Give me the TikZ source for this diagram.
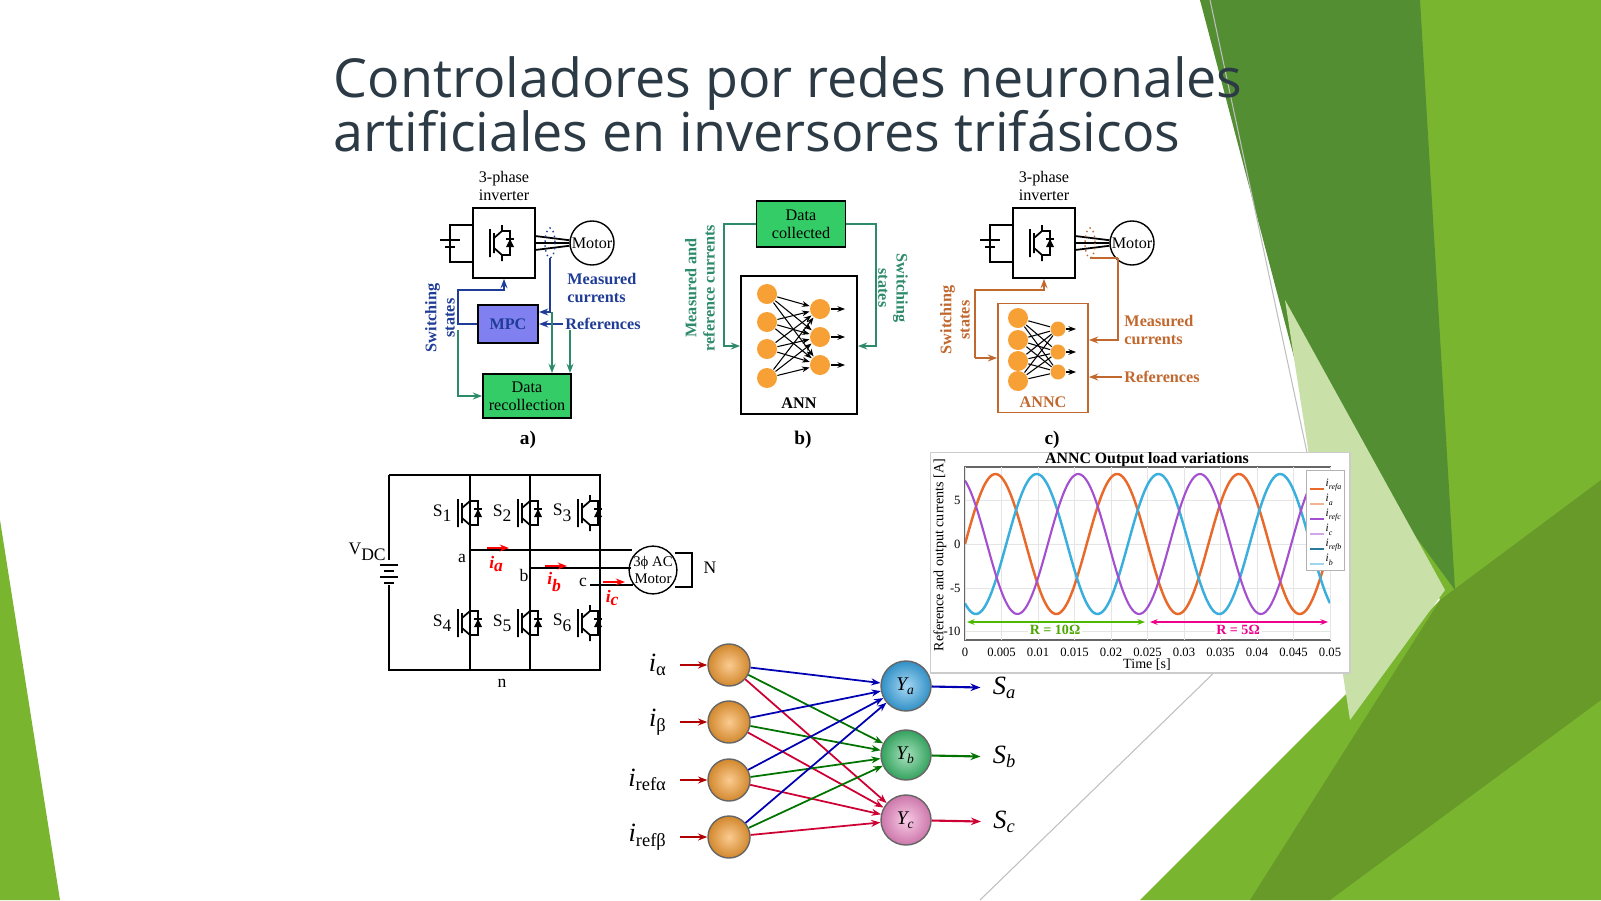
\documentclass[tikz,border=0pt]{standalone}
\usepackage{fontspec}
\setmainfont{Liberation Serif}
\newfontfamily\titlefont{Open Sans}
\usetikzlibrary{positioning,arrows.meta,shapes.geometric}
\definecolor{titlegray}{HTML}{2B3A44}
\definecolor{leafgreen}{HTML}{7AB530}
\definecolor{darkleaf}{HTML}{548E33}
\definecolor{paleleaf}{HTML}{C9E0A8}
\definecolor{mpcblue}{HTML}{8080F0}
\definecolor{navyline}{HTML}{1F3C96}
\definecolor{datagreen}{HTML}{33CC66}
\definecolor{tealline}{HTML}{2E8B6A}
\definecolor{neuron}{HTML}{F7A035}
\definecolor{anncbrown}{HTML}{C0682E}
\definecolor{sinorange}{HTML}{E8692A}
\definecolor{sinblue}{HTML}{3AAEDC}
\definecolor{sinpurple}{HTML}{A34FD0}
\definecolor{ya}{HTML}{3AA9E8}
\definecolor{yb}{HTML}{3DBE6E}
\definecolor{yc}{HTML}{F08CC8}
\newcommand{\smallfont}{\fontsize{4.6}{5.2}\selectfont}
\newcommand{\nnfont}{\fontsize{7.5}{8}\selectfont\itshape}
\tikzset{
  box/.style={draw, line width=0.5pt, minimum width=0.62cm, minimum height=0.7cm},
  lbl/.style={font=\smallfont, align=center, inner sep=0.5pt},
  neu/.style={circle, fill=neuron, minimum size=0.2cm, inner sep=0pt},
  bigneu/.style={circle, draw=black!60, inner color=neuron!55!white, outer color=neuron!85!black, minimum size=0.42cm, inner sep=0pt},
  outneu/.style={circle, draw=black!60, minimum size=0.5cm, inner sep=0pt, font=\fontsize{5.5}{6}\selectfont\itshape},
  wire/.style={line width=0.5pt},
  pics/igbt/.style={code={
    \draw[line width=0.5pt] (-12,-14) -- (-12,14) (-8,-10) -- (-8,10)
      (-8,-5) -- (0,-12) -- (0,-18) (-8,5) -- (0,12) -- (0,18)
      (0,-12) -- (8,-12) -- (8,12) -- (0,12);
    \fill (4,4) -- (12,4) -- (8,-4) -- cycle;
    \draw[line width=0.5pt] (4,-4) -- (12,-4);
  }}
}
\begin{document}
\begin{tikzpicture}[x=0.01cm, y=-0.01cm, >={Stealth[scale=0.5]}]
\useasboundingbox (0,0) rectangle (1601,900);
% background leaves
\fill[leafgreen] (1200,0) -- (1601,0) -- (1601,900) -- (1140,900) -- (1440,600) -- cycle;
\fill[darkleaf] (1200,0) -- (1420,0) -- (1455,590) -- (1300,380) -- cycle;
\fill[paleleaf] (1285,300) -- (1445,590) -- (1350,720) -- cycle;
\fill[leafgreen!85!black] (1440,600) -- (1601,480) -- (1601,700) -- (1330,900) -- (1250,900) -- cycle;
\draw[black!25, line width=0.3pt] (1210,0) -- (1330,560) (1330,560) -- (980,900);
\fill[leafgreen] (0,520) -- (60,900) -- (0,900) -- cycle;
% title
\node[anchor=west, text=titlegray, font=\titlefont\fontsize{15.3}{15.4}\selectfont, align=left, inner sep=0] (title) at (333,104) {Controladores por redes neuronales\\artificiales en inversores trifásicos};

% ---- panel a
\node[box] (invA) at (504,243) {};
\node[lbl, above=1pt of invA] (invAl) {3-phase\\inverter};
\pic at (502,243) {igbt};
\draw[wire] (473,225) -- (450,225) -- (450,262) -- (473,262);
\draw[wire] (440,240) -- (460,240) (445,247) -- (455,247);
\node[circle, draw, minimum size=0.44cm, inner sep=0, font=\smallfont] (motA) at (592,243) {Motor};
\draw[wire] (535,236) -- (motA) (535,243) -- (motA) (535,250) -- (motA);
\draw[navyline, densely dotted] (550,243) ellipse (5 and 15);
\node[box, fill=mpcblue, minimum width=0.5cm, minimum height=0.38cm, font=\smallfont\bfseries, text=navyline] (mpc) at (508,324) {MPC};
\node[box, fill=datagreen, minimum width=0.88cm, minimum height=0.44cm, lbl] (drec) at (527,396) {Data\\recollection};
\node[lbl, anchor=west, text=navyline, font=\smallfont\bfseries, align=left] (measA) at (565,288) {Measured\\currents};
\node[lbl, anchor=west, text=navyline, font=\smallfont\bfseries] (refA) at (563,324) {References};
\node[lbl, rotate=90, text=navyline, font=\smallfont\bfseries] (swA) at (440,318) {Switching\\states};
\draw[navyline, wire, ->] (mpc.west) -- (458,324) -- (458,290) -- (504,290) -- (invA.south);
\draw[navyline, wire, ->] (550,258) -- (550,312) -- (mpc.east |- 0,312);
\draw[navyline, wire, ->] (refA.west) -- (mpc.east);
\draw[tealline, wire, ->] (458,330) -- (458,396) -- (drec.west);
\draw[tealline, wire, ->] (552,312) -- (552,373);
\draw[tealline, wire, ->] (570,330) -- (570,373);
\node[lbl, font=\fontsize{5.5}{6}\selectfont\bfseries] (la) at (528,440) {a)};

% ---- panel b
\node[box, fill=datagreen, minimum width=0.89cm, minimum height=0.46cm, lbl] (dcol) at (801,224) {Data\\collected};
\node[box, minimum width=1.16cm, minimum height=1.38cm] (ann) at (799,345) {};
\node[lbl, font=\smallfont\bfseries, above=1pt of ann.south] (annl) {ANN};
\foreach \y [count=\i] in {294,322,349,378} \node[neu] (bi\i) at (767,\y) {};
\foreach \y [count=\j] in {309,337,365} {
  \node[neu] (bo\j) at (820,\y) {};
  \draw[->, line width=0.3pt] (bo\j) -- ++(25,0);
}
\foreach \i in {1,...,4} \foreach \j in {1,...,3} \draw[->, line width=0.3pt] (bi\i) -- (bo\j);
\node[lbl, rotate=90, text=tealline, font=\smallfont\bfseries] (mrB) at (700,288) {Measured and\\reference currents};
\node[lbl, rotate=-90, text=tealline, font=\smallfont\bfseries] (swB) at (893,288) {Switching\\states};
\draw[tealline, wire, ->] (dcol.west) -- (724,224) -- (724,346) -- (ann.west |- 0,346);
\draw[tealline, wire, ->] (dcol.east) -- (876,224) -- (876,346) -- (ann.east |- 0,346);
\node[lbl, font=\fontsize{5.5}{6}\selectfont\bfseries] (lb) at (803,440) {b)};

% ---- panel c
\node[box] (invC) at (1044,243) {};
\node[lbl, above=1pt of invC] (invCl) {3-phase\\inverter};
\pic at (1042,243) {igbt};
\draw[wire] (1013,225) -- (990,225) -- (990,262) -- (1013,262);
\draw[wire] (980,240) -- (1000,240) (985,247) -- (995,247);
\node[circle, draw, minimum size=0.44cm, inner sep=0, font=\smallfont] (motC) at (1132,243) {Motor};
\draw[wire] (1075,236) -- (motC) (1075,243) -- (motC) (1075,250) -- (motC);
\draw[anncbrown, densely dotted] (1090,243) ellipse (5 and 15);
\node[box, draw=anncbrown, minimum width=0.9cm, minimum height=1.09cm] (annc) at (1043,358) {};
\node[lbl, font=\smallfont\bfseries, text=anncbrown, above=1pt of annc.south] (anncl) {ANNC};
\foreach \y [count=\i] in {318,340,361,381} \node[neu] (ci\i) at (1018,\y) {};
\foreach \y [count=\j] in {329,352,372} {
  \node[neu, minimum size=0.15cm] (co\j) at (1058,\y) {};
  \draw[->, line width=0.3pt] (co\j) -- ++(18,0);
}
\foreach \i in {1,...,4} \foreach \j in {1,...,3} \draw[line width=0.3pt] (ci\i) -- (co\j);
\node[lbl, anchor=west, text=anncbrown, font=\smallfont\bfseries, align=left] (measC) at (1122,330) {Measured\\currents};
\node[lbl, anchor=west, text=anncbrown, font=\smallfont\bfseries] (refC) at (1122,377) {References};
\node[lbl, rotate=90, text=anncbrown, font=\smallfont\bfseries] (swC) at (955,320) {Switching\\states};
\draw[anncbrown, wire, ->] (975,358) -- (annc.west |- 0,358);
\draw[anncbrown, wire, ->] (975,358) -- (975,290) -- (1044,290) -- (invC.south);
\draw[anncbrown, wire] (1118,258) -- (1090,258);
\draw[anncbrown, wire, ->] (1118,258) -- (1118,340) -- (annc.east |- 0,340);
\draw[anncbrown, wire, ->] (refC.west) -- (annc.east |- refC);
\node[lbl, font=\fontsize{5.5}{6}\selectfont\bfseries] (lc) at (1052,440) {c)};

% ---- inverter circuit
\draw[wire] (389,475) -- (600,475) -- (600,670) -- (389,670) -- (389,475);
\draw[wire] (470,475) -- (470,670) (530,475) -- (530,670);
\fill[white] (380,560) rectangle (398,585);
\draw[wire] (380,565) -- (398,565) (384,571) -- (394,571) (380,577) -- (398,577) (384,583) -- (394,583);
\node[lbl, font=\fontsize{5}{6}\selectfont] (vdc) at (368,552) {V\textsubscript{DC}};
\foreach \x/\k in {470/1,530/2,590/3} {
  \pic at (\x,513) {igbt};
  \node[lbl, font=\fontsize{5}{6}\selectfont] (su\k) at (\x-27,513) {S\textsubscript{\k}};
}
\foreach \x/\k in {470/4,530/5,590/6} {
  \pic at (\x,623) {igbt};
  \node[lbl, font=\fontsize{5}{6}\selectfont] (sd\k) at (\x-27,623) {S\textsubscript{\k}};
}
\node[circle, draw, minimum size=0.44cm, inner sep=0, font=\fontsize{4.2}{4.8}\selectfont, align=center] (acm) at (653,570) {3ϕ AC\\Motor};
\draw[wire] (470,550) -- (632,550) (530,568) -- (631,568) (590,585) -- (633,585);
\draw[wire] (675,553) -- (692,553) -- (692,587) -- (675,587);
\node[lbl, font=\fontsize{5}{6}\selectfont] (nN) at (710,568) {N};
\node[lbl, font=\fontsize{5}{6}\selectfont] (na) at (462,558) {a};
\node[lbl, font=\fontsize{5}{6}\selectfont] (nb) at (524,575) {b};
\node[lbl, font=\fontsize{5}{6}\selectfont] (nc) at (583,582) {c};
\node[lbl, font=\fontsize{5}{6}\selectfont] (nn) at (502,683) {n};
\foreach \x/\y/\p in {487/548/a,545/566/b,603/582/c} {
  \draw[red, ->, line width=0.5pt] (\x,\y) -- ++(22,0);
  \node[lbl, text=red, font=\fontsize{5}{6}\selectfont\bfseries\itshape] at (\x+10,\y+16) {i\textsubscript{\p}};
}

% ---- waveform plot
\node[draw=black!20, fill=white, minimum width=4.19cm, minimum height=2.2cm, inner sep=0, anchor=north west] (plotbox) at (930,452) {};
\node[lbl, font=\fontsize{4.5}{5}\selectfont\bfseries] (ptitle) at (1147,460) {ANNC Output load variations};
\draw[black!60, line width=0.3pt] (965,467) rectangle (1330,640);
\foreach \t [count=\k from 0] in {0,0.005,0.01,0.015,0.02,0.025,0.03,0.035,0.04,0.045,0.05} {
  \draw[black!10, line width=0.2pt] (965+36.5*\k,467) -- (965+36.5*\k,640);
  \node[lbl, font=\fontsize{3.6}{4}\selectfont] at (965+36.5*\k,652) {\t};
}
\foreach \v/\yy in {5/500,0/544,-5/588,-10/631} {
  \draw[black!10, line width=0.2pt] (965,\yy) -- (1330,\yy);
  \node[lbl, anchor=east, font=\fontsize{3.6}{4}\selectfont] at (963,\yy) {\v};
}
\begin{scope}
\clip (965,467) rectangle (1330,640);
\draw[sinorange, line width=0.7pt] plot[domain=0:365, samples=200, smooth] ({965+\x}, {544-70*sin(2.958*\x)});
\draw[sinblue, line width=0.7pt] plot[domain=0:365, samples=200, smooth] ({965+\x}, {544-70*sin(2.958*\x-122)});
\draw[sinpurple, line width=0.6pt] plot[domain=0:365, samples=200, smooth] ({965+\x}, {544-70*sin(2.958*\x+115)});
\end{scope}
\node[lbl, font=\fontsize{4}{4.5}\selectfont] (xlab) at (1147,665) {Time [s]};
\node[lbl, rotate=90, font=\fontsize{4}{4.5}\selectfont] (ylab) at (940,555) {Reference and output currents [A]};
\draw[green!60!black!70!yellow, <->, line width=0.3pt] (967,622) -- (1145,622);
\node[lbl, fill=white, text=green!50!black!70!yellow, font=\fontsize{4}{4.5}\selectfont\bfseries] at (1055,630) {R = 10Ω};
\draw[magenta, <->, line width=0.3pt] (1150,622) -- (1328,622);
\node[lbl, fill=white, text=magenta, font=\fontsize{4}{4.5}\selectfont\bfseries] at (1238,630) {R = 5Ω};
\node[draw=black!30, fill=white, minimum width=0.38cm, minimum height=1.0cm, anchor=north east, inner sep=0] (legend) at (1345,470) {};
\foreach \c/\s [count=\k] in {sinorange/refa,sinorange!50/a,sinpurple/refc,sinpurple!50/c,sinblue!70!black/refb,sinblue!50/b} {
  \draw[\c, line width=0.4pt] (1310,474+15*\k) -- ++(14,0);
  \node[anchor=west, inner sep=0, font=\fontsize{3.2}{3.5}\selectfont\itshape] at (1325,470+15*\k) {i\textsubscript{\s}};
}

% ---- neural network
\foreach \y/\s [count=\i] in {665/α,722/β,780/refα,837/refβ} {
  \node[bigneu] (x\i) at (729,\y) {};
  \node[anchor=east, font=\nnfont] (xl\i) at (680,\y) {i\textsubscript{\upshape\s}};
  \draw[red!70!black, ->, line width=0.5pt] (xl\i.east) -- (x\i.west);
}
\node[outneu, inner color=ya!45!white, outer color=ya!85!black] (y1) at (906,686) {Y\textsubscript{a}};
\node[outneu, inner color=yb!45!white, outer color=yb!85!black] (y2) at (906,755) {Y\textsubscript{b}};
\node[outneu, inner color=yc!45!white, outer color=yc!85!black] (y3) at (906,820) {Y\textsubscript{c}};
\foreach \i in {1,...,4} {
  \draw[blue!70!black, ->, line width=0.5pt] (x\i) -- (y1);
  \draw[green!45!black, ->, line width=0.5pt] (x\i) -- (y2);
  \draw[purple!80!red, ->, line width=0.5pt] (x\i) -- (y3);
}
\node[font=\nnfont] (s1) at (1005,688) {S\textsubscript{a}};
\node[font=\nnfont] (s2) at (1005,757) {S\textsubscript{b}};
\node[font=\nnfont] (s3) at (1005,822) {S\textsubscript{c}};
\draw[blue!70!black, ->, line width=0.6pt] (y1) -- (s1);
\draw[green!45!black, ->, line width=0.6pt] (y2) -- (s2);
\draw[purple!80!red, ->, line width=0.6pt] (y3) -- (s3);
\end{tikzpicture}
\end{document}
